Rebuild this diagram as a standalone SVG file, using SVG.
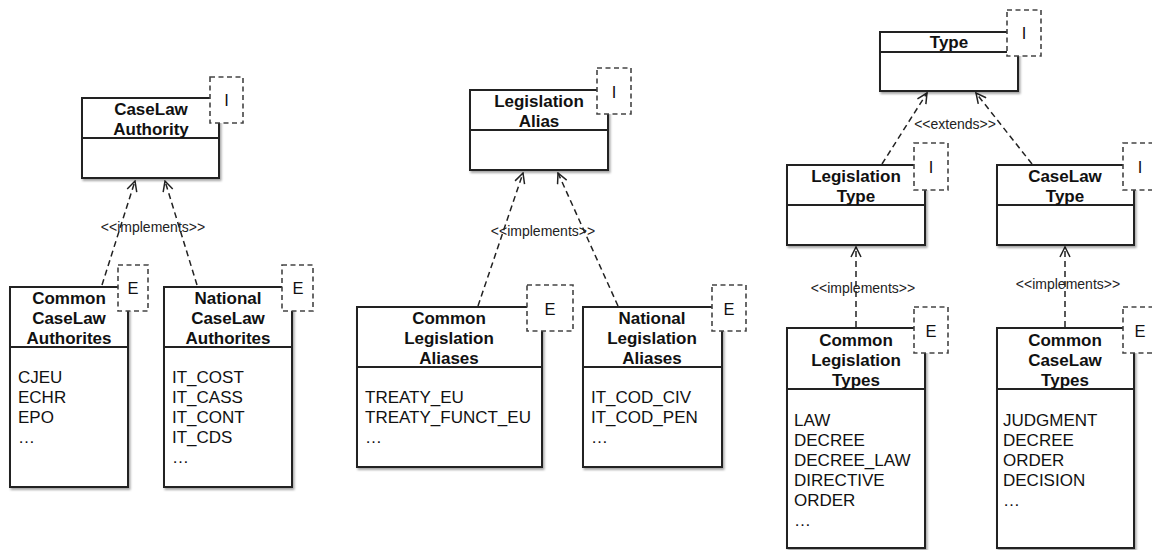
<svg xmlns="http://www.w3.org/2000/svg" width="1152" height="550" viewBox="0 0 1152 550">
<defs>
<filter id="sh" x="-10%" y="-10%" width="130%" height="130%">
<feDropShadow dx="1.5" dy="2" stdDeviation="1.2" flood-color="#000" flood-opacity="0.35"/>
</filter>
<marker id="arr" markerWidth="12" markerHeight="12" viewBox="0 0 12 12" refX="11" refY="6" orient="auto" markerUnits="userSpaceOnUse">
<path d="M1,1 L11,6 L1,11" fill="none" stroke="#222" stroke-width="1.5"/>
</marker>
</defs>
<style>
.box{fill:#fff;stroke:#222;stroke-width:2;filter:url(#sh)}
.div{stroke:#222;stroke-width:2}
.tag{fill:#fff;stroke:#444;stroke-width:1.6;stroke-dasharray:5,3.5}
.t{font-family:"Liberation Sans",Arial,sans-serif;font-weight:bold;font-size:17px;fill:#111;text-anchor:middle}
.i{font-family:"Liberation Sans",Arial,sans-serif;font-size:17px;fill:#111}
.g{font-family:"Liberation Sans",Arial,sans-serif;font-size:16.5px;fill:#111;text-anchor:middle}
.lbl{font-family:"Liberation Sans",Arial,sans-serif;font-size:14px;fill:#222;text-anchor:middle}
.c{fill:none;stroke:#222;stroke-width:1.5;stroke-dasharray:6,4;marker-end:url(#arr)}
</style>
<rect width="1152" height="550" fill="#fff"/>

<g id="connectors">
<line class="c" x1="102" y1="285" x2="135" y2="181"/>
<line class="c" x1="197" y1="285" x2="165" y2="181"/>
<text class="lbl" x="153" y="232">&lt;&lt;implements&gt;&gt;</text>
<line class="c" x1="478" y1="306" x2="523" y2="173"/>
<line class="c" x1="618" y1="306" x2="558" y2="173"/>
<text class="lbl" x="543" y="236">&lt;&lt;implements&gt;&gt;</text>
<line class="c" x1="882" y1="164" x2="927" y2="93"/>
<line class="c" x1="1032" y1="164" x2="976" y2="93"/>
<text class="lbl" x="955" y="129">&lt;&lt;extends&gt;&gt;</text>
<line class="c" x1="856" y1="327" x2="856" y2="247"/>
<text class="lbl" x="863" y="293">&lt;&lt;implements&gt;&gt;</text>
<line class="c" x1="1065" y1="327" x2="1065" y2="247"/>
<text class="lbl" x="1068" y="289">&lt;&lt;implements&gt;&gt;</text>
</g>

<g id="caselaw-authority">
<rect class="box" x="82" y="98" width="137" height="80"/>
<line class="div" x1="82" y1="138" x2="219" y2="138"/>
<text class="t" x="151" y="115">CaseLaw</text>
<text class="t" x="151" y="135">Authority</text>
<rect class="tag" x="210" y="77" width="33" height="46"/>
<text class="g" x="226.5" y="106">I</text>
</g>

<g id="common-caselaw-authorities">
<rect class="box" x="10" y="287" width="118" height="200"/>
<line class="div" x1="10" y1="347" x2="128" y2="347"/>
<text class="t" x="69" y="304">Common</text>
<text class="t" x="69" y="324">CaseLaw</text>
<text class="t" x="69" y="344">Authorites</text>
<text class="i" x="18" y="383">CJEU</text>
<text class="i" x="18" y="403">ECHR</text>
<text class="i" x="18" y="423">EPO</text>
<text class="i" x="18" y="443">…</text>
<rect class="tag" x="118" y="265" width="30" height="46"/>
<text class="g" x="133" y="294">E</text>
</g>

<g id="national-caselaw-authorities">
<rect class="box" x="164" y="287" width="128" height="200"/>
<line class="div" x1="164" y1="347" x2="292" y2="347"/>
<text class="t" x="228" y="304">National</text>
<text class="t" x="228" y="324">CaseLaw</text>
<text class="t" x="228" y="344">Authorites</text>
<text class="i" x="172" y="383">IT_COST</text>
<text class="i" x="172" y="403">IT_CASS</text>
<text class="i" x="172" y="423">IT_CONT</text>
<text class="i" x="172" y="443">IT_CDS</text>
<text class="i" x="172" y="463">…</text>
<rect class="tag" x="282" y="265" width="31" height="46"/>
<text class="g" x="298" y="294">E</text>
</g>

<g id="legislation-alias">
<rect class="box" x="470" y="90" width="138" height="80"/>
<line class="div" x1="470" y1="130" x2="608" y2="130"/>
<text class="t" x="539" y="107">Legislation</text>
<text class="t" x="539" y="127">Alias</text>
<rect class="tag" x="597" y="68" width="34" height="46"/>
<text class="g" x="614" y="98">I</text>
</g>

<g id="common-legislation-aliases">
<rect class="box" x="357" y="307" width="185" height="160"/>
<line class="div" x1="357" y1="367" x2="542" y2="367"/>
<text class="t" x="449" y="324">Common</text>
<text class="t" x="449" y="344">Legislation</text>
<text class="t" x="449" y="364">Aliases</text>
<text class="i" x="365" y="403">TREATY_EU</text>
<text class="i" x="365" y="423">TREATY_FUNCT_EU</text>
<text class="i" x="365" y="443">…</text>
<rect class="tag" x="527" y="285" width="46" height="46"/>
<text class="g" x="550" y="315">E</text>
</g>

<g id="national-legislation-aliases">
<rect class="box" x="583" y="307" width="139" height="160"/>
<line class="div" x1="583" y1="367" x2="722" y2="367"/>
<text class="t" x="652" y="324">National</text>
<text class="t" x="652" y="344">Legislation</text>
<text class="t" x="652" y="364">Aliases</text>
<text class="i" x="591" y="403">IT_COD_CIV</text>
<text class="i" x="591" y="423">IT_COD_PEN</text>
<text class="i" x="591" y="443">…</text>
<rect class="tag" x="712" y="285" width="34" height="46"/>
<text class="g" x="729" y="315">E</text>
</g>

<g id="type">
<rect class="box" x="880" y="32" width="138" height="59"/>
<line class="div" x1="880" y1="52" x2="1018" y2="52"/>
<text class="t" x="949" y="48">Type</text>
<rect class="tag" x="1007" y="10" width="34" height="46"/>
<text class="g" x="1024" y="39">I</text>
</g>

<g id="legislation-type">
<rect class="box" x="787" y="165" width="138" height="80"/>
<line class="div" x1="787" y1="205" x2="925" y2="205"/>
<text class="t" x="856" y="182">Legislation</text>
<text class="t" x="856" y="202">Type</text>
<rect class="tag" x="914" y="143" width="34" height="47"/>
<text class="g" x="931" y="173">I</text>
</g>

<g id="caselaw-type">
<rect class="box" x="997" y="165" width="137" height="80"/>
<line class="div" x1="997" y1="205" x2="1134" y2="205"/>
<text class="t" x="1065" y="182">CaseLaw</text>
<text class="t" x="1065" y="202">Type</text>
<rect class="tag" x="1123" y="143" width="34" height="47"/>
<text class="g" x="1140" y="173">I</text>
</g>

<g id="common-legislation-types">
<rect class="box" x="787" y="328" width="138" height="220"/>
<line class="div" x1="787" y1="389" x2="925" y2="389"/>
<text class="t" x="856" y="346">Common</text>
<text class="t" x="856" y="366">Legislation</text>
<text class="t" x="856" y="386">Types</text>
<text class="i" x="794" y="426">LAW</text>
<text class="i" x="794" y="446">DECREE</text>
<text class="i" x="794" y="466">DECREE_LAW</text>
<text class="i" x="794" y="486">DIRECTIVE</text>
<text class="i" x="794" y="506">ORDER</text>
<text class="i" x="794" y="526">…</text>
<rect class="tag" x="914" y="307" width="34" height="46"/>
<text class="g" x="931" y="337">E</text>
</g>

<g id="common-caselaw-types">
<rect class="box" x="997" y="328" width="137" height="220"/>
<line class="div" x1="997" y1="389" x2="1134" y2="389"/>
<text class="t" x="1065" y="346">Common</text>
<text class="t" x="1065" y="366">CaseLaw</text>
<text class="t" x="1065" y="386">Types</text>
<text class="i" x="1003" y="426">JUDGMENT</text>
<text class="i" x="1003" y="446">DECREE</text>
<text class="i" x="1003" y="466">ORDER</text>
<text class="i" x="1003" y="486">DECISION</text>
<text class="i" x="1003" y="506">…</text>
<rect class="tag" x="1123" y="307" width="34" height="46"/>
<text class="g" x="1140" y="337">E</text>
</g>
</svg>
